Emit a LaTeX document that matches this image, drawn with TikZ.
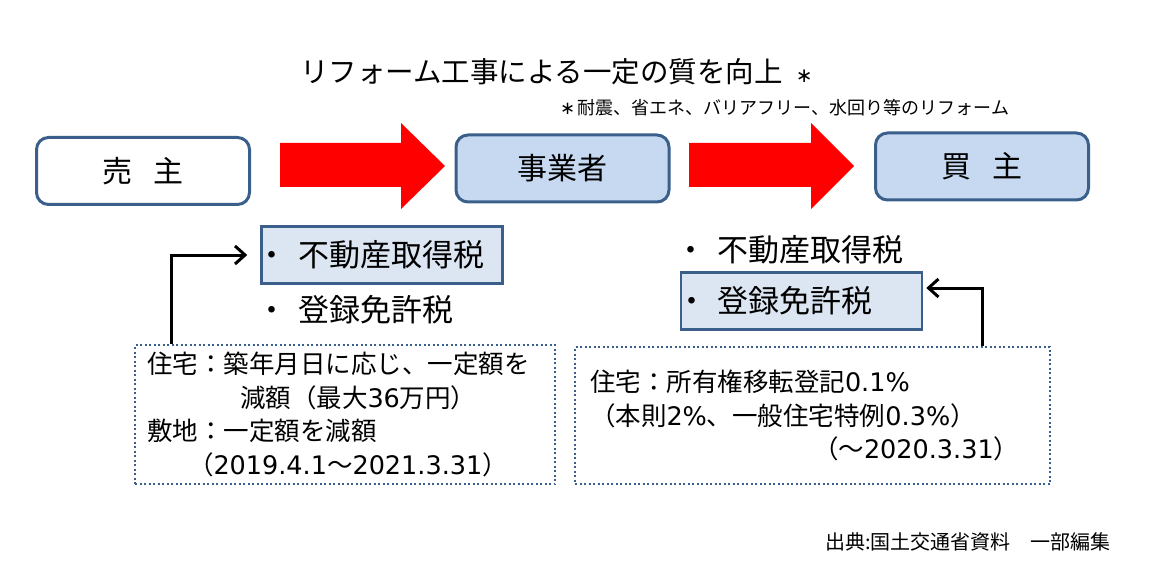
\documentclass[tikz,border=0pt]{standalone}
\usepackage{fontspec}
\setmainfont{Noto Sans CJK JP}
\newfontfamily\numfont{DejaVu Sans}
\usepackage{tikz}
\usetikzlibrary{arrows.meta}

\definecolor{frameblue}{HTML}{3A5F8B}
\definecolor{agentfill}{HTML}{C6D9F1}
\definecolor{taxfill}{HTML}{DCE6F2}

\begin{document}
\begin{tikzpicture}[x=1pt, y=-1pt,
    party/.style={draw=frameblue, line width=3pt, rounded corners=12pt, minimum width=213pt, minimum height=67pt, font=\fontsize{30}{36}\selectfont},
    taxbox/.style={draw=frameblue, line width=2.5pt, fill=taxfill, minimum width=241pt, minimum height=57pt, inner xsep=0pt, text width=241pt, align=left, font=\fontsize{31}{36}\selectfont},
    taxitem/.style={anchor=west, inner sep=0pt, font=\fontsize{31}{36}\selectfont},
    notebox/.style={draw=frameblue, line width=2pt, dash pattern=on 2pt off 2.5pt, align=left, font=\fontsize{25.5}{33.5}\selectfont},
    flow/.style={fill=red},
    link/.style={draw, line width=3pt, -{Straight Barb[length=10pt, width=18pt]}}
]
\useasboundingbox (0,0) rectangle (1156,580);

% Define headings
\node[anchor=west, inner sep=0pt, font=\fontsize{28.5}{34}\selectfont] (title) at (300,72) {リフォーム工事による一定の質を向上{\numfont\hspace{0.45em}\fontsize{20}{24}\selectfont ∗}};
\node[anchor=west, inner sep=0pt, font=\fontsize{18}{22}\selectfont] (remark) at (560,108) {{\numfont ∗\hspace{0.15em}}耐震、省エネ、バリアフリー、水回り等のリフォーム};

% Define parties
\node[party, fill=white] (seller) at (143,171) {売\hspace{0.7em}主};
\node[party, fill=agentfill] (agent) at (562.5,168.5) {事業者};
\node[party, fill=agentfill] (buyer) at (982,166.5) {買\hspace{0.7em}主};

% Define flows
\fill[flow] (280,143) -- (401,143) -- (401,123) -- (445,166) -- (401,209) -- (401,187) -- (280,187) -- cycle;
\fill[flow] (689,143) -- (811,143) -- (811,123) -- (854,166) -- (811,209) -- (811,187) -- (689,187) -- cycle;

% Define taxes
\node[taxbox] (acq) at (382,255) {\hspace*{-5pt}・\hspace{0.35em}不動産取得税};
\node[taxitem] (regleft) at (256,310) {・\hspace{0.35em}登録免許税};
\node[taxitem] (acqright) at (675,250) {・\hspace{0.35em}不動産取得税};
\node[taxbox] (reg) at (801.5,301) {\hspace*{-5pt}・\hspace{0.35em}登録免許税};

% Define notes
\node[notebox, text width=396pt, inner xsep=12pt, minimum height=139pt] (leftnote) at (345,414.5) {%
住宅：築年月日に応じ、一定額を\\
\hspace*{93pt}減額（最大{\numfont 36}万円）\\
敷地：一定額を減額\\
\hspace*{41pt}（{\numfont 2019.4.1}～{\numfont 2021.3.31}）};
\node[notebox, text width=445pt, inner xsep=15pt, minimum height=137pt] (rightnote) at (812.5,415.5) {%
住宅：所有権移転登記{\numfont 0.1\%}\\
（本則{\numfont 2\%}、一般住宅特例{\numfont 0.3\%}）\\
\hspace*{223pt}（～{\numfont 2020.3.31}）};

% Define links
\path[link, shorten >=13pt] ([xshift=37pt]leftnote.north west) |- (acq.west);
\path[link, shorten >=3pt] ([xshift=408pt]rightnote.north west) |- ([yshift=13pt]reg.east);

\node[anchor=west, inner sep=0pt, font=\fontsize{20}{24}\selectfont] (source) at (825,542) {出典:国土交通省資料　一部編集};

\end{tikzpicture}
\end{document}
